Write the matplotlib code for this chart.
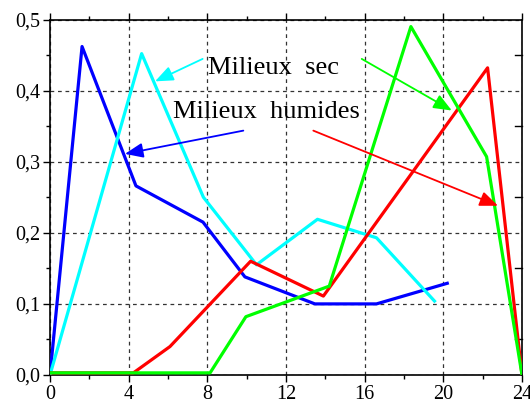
import matplotlib
matplotlib.use("Agg")
import matplotlib.pyplot as plt
from matplotlib.ticker import MultipleLocator, FuncFormatter

# Data
blue_x = [0, 1.63, 4.37, 7.78, 9.91, 13.47, 16.6, 20.2]
blue_y = [0.0, 0.462, 0.266, 0.215, 0.138, 0.100, 0.100, 0.129]

cyan_x = [0, 4.66, 7.8, 10.5, 13.6, 16.6, 19.55]
cyan_y = [0.0, 0.452, 0.25, 0.155, 0.219, 0.193, 0.104]

red_x = [0, 4.24, 6.1, 10.2, 13.9, 22.25, 24]
red_y = [0.003, 0.003, 0.040, 0.160, 0.111, 0.432, 0.0]

green_x = [0, 8.14, 9.96, 14.2, 18.35, 22.2, 24]
green_y = [0.003, 0.003, 0.082, 0.125, 0.49, 0.307, 0.0]

x_ticks = [0, 4, 8, 12, 16, 20, 24]
y_ticks = [0.0, 0.1, 0.2, 0.3, 0.4, 0.5]

label_sec = "Milieux  sec"
label_hum = "Milieux  humides"

plt.rcParams['font.family'] = ['Liberation Serif', 'DejaVu Serif']

fig = plt.figure(figsize=(5.30, 4.03), dpi=100)
ax = fig.add_axes([50/530, 1-375/403, 472/530, 355.5/403])

lw = 2.3
ax.plot(blue_x, blue_y, color='#0000ff', lw=lw, zorder=3)
ax.plot(cyan_x, cyan_y, color='#00ffff', lw=lw, zorder=3)
ax.plot(red_x, red_y, color='#ff0000', lw=lw, zorder=3)
ax.plot(green_x, green_y, color='#00ff00', lw=lw, zorder=3)

ax.set_xlim(0, 24)
ax.set_ylim(0, 0.5)
ax.set_xticks(x_ticks)
ax.set_yticks(y_ticks)
ax.xaxis.set_minor_locator(MultipleLocator(2))
ax.yaxis.set_minor_locator(MultipleLocator(0.05))
ax.yaxis.set_major_formatter(FuncFormatter(lambda v, p: f"{v:.1f}".replace('.', ',')))
ax.xaxis.set_major_formatter(FuncFormatter(lambda v, p: f"{int(round(v))}"))

ax.tick_params(axis='both', which='major', direction='out', length=5, width=1,
               labelsize=14.5, top=True, right=False, pad=2)
ax.tick_params(axis='both', which='minor', direction='out', length=3, width=1,
               top=True, right=False)
ax.grid(True, which='major', linestyle=(0, (3, 3)), color='#333333', lw=0.9, zorder=1)
for s in ax.spines.values():
    s.set_linewidth(1.2)

# right-side inward ticks
for yt in [0.05, 0.15, 0.25, 0.35, 0.45]:
    ax.plot([23.65, 24], [yt, yt], color='black', lw=1, clip_on=False, zorder=2)

ax.text(8.03, 0.424, label_sec, fontsize=19, ha='left', va='baseline', zorder=4)
ax.text(6.25, 0.362, label_hum, fontsize=19, ha='left', va='baseline', zorder=4)

arrowprops = dict(arrowstyle='-|>,head_length=1.1,head_width=0.45', lw=1.3)
def arr(x0, y0, x1, y1, c):
    ax.annotate('', xy=(x1, y1), xytext=(x0, y0), xycoords='data',
                arrowprops=dict(arrowprops, color=c, shrinkA=0, shrinkB=0), zorder=5)

arr(7.76, 0.4446, 5.34, 0.413, '#00ffff')
arr(9.83, 0.3437, 3.81, 0.311, '#0000ff')
arr(15.85, 0.4446, 20.43, 0.372, '#00ff00')
arr(13.39, 0.3437, 22.78, 0.238, '#ff0000')

fig.savefig('out.png', dpi=100)
